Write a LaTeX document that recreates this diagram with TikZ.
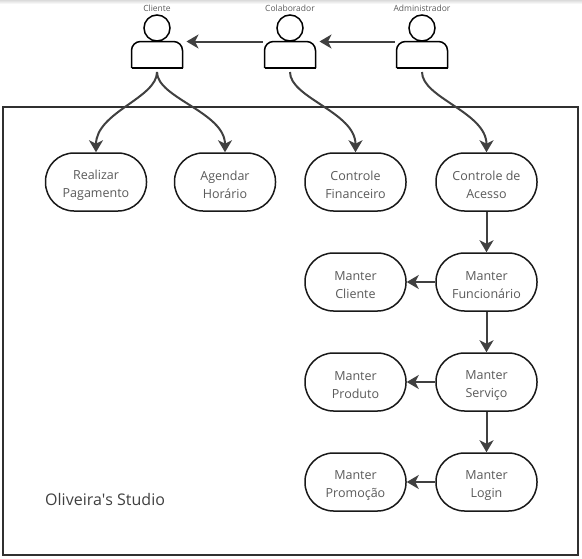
\documentclass[tikz,border=0pt]{standalone}
\usepackage{fontspec}
\setmainfont{Open Sans}
\usepackage{tikz}
\usetikzlibrary{arrows.meta}
\definecolor{inkgrey}{HTML}{404040}
\definecolor{textgrey}{HTML}{5A5A5A}
\definecolor{framegrey}{HTML}{303030}
\tikzset{
  uc/.style={rectangle, rounded corners=28.5pt, draw=black!90, line width=1.5pt, fill=white, align=center,
             minimum width=101pt, minimum height=58pt, inner sep=0pt, text height=33pt,
             text=textgrey, font=\fontsize{12.5}{17.8}\selectfont},
  uc arr/.style={-{Stealth[length=12pt, width=14pt, inset=3.5pt]}, line width=2pt, inkgrey},
  actor head/.style={circle, draw=black, line width=1.5pt, fill=white, minimum size=26pt, inner sep=0pt},
  actor body/.style={minimum width=51pt, minimum height=26.5pt, inner sep=0pt, outer sep=0pt},
  actor name/.style={font=\fontsize{8.5}{10}\selectfont, text=textgrey},
}
\begin{document}
\begin{tikzpicture}[x=1pt, y=-1pt]
  \useasboundingbox (0,0) rectangle (582,558);
  \shade[top color=black!14, bottom color=white] (0,0) rectangle (582,4);
  % system frame
  \node[draw=framegrey, line width=1.3pt, minimum width=575pt, minimum height=448pt, inner sep=0pt] (sys) at (290.5,331) {};
  \node[anchor=west, font=\fontsize{16}{19}\selectfont, text=inkgrey, inner sep=0pt] (title) at (45,499.5) {Oliveira\textquotesingle s Studio};
  % actors
  \foreach \n/\x/\t in {cl/157/Cliente, col/290/Colaborador, adm/422/Administrador} {
    \node[actor body] (\n) at (\x,54.75) {};
    \draw[line width=1.5pt, rounded corners=9pt] (\n.south west) -- (\n.north west) -- (\n.north east) -- (\n.south east);
    \draw[line width=1.5pt, line cap=square] (\n.south west) -- (\n.south east);
    \node[actor head] (\n head) at (\x,28) {};
    \node[actor name] (\n name) at (\x,8) {\t};
  }
  % use cases
  \node[uc] (pag) at (96,182) {Realizar\\Pagamento};
  \node[uc] (hor) at (225,182) {Agendar\\Horário};
  \node[uc] (fin) at (355.5,182) {Controle\\Financeiro};
  \node[uc] (ace) at (486.5,182) {Controle de\\Acesso};
  \node[uc] (mcl) at (355.5,282) {Manter\\Cliente};
  \node[uc] (mfu) at (486.5,282) {Manter\\Funcionário};
  \node[uc] (mpr) at (355.5,382) {Manter\\Produto};
  \node[uc] (mse) at (486.5,382) {Manter\\Serviço};
  \node[uc] (mpo) at (355.5,482) {Manter\\Promoção};
  \node[uc] (mlo) at (486.5,482) {Manter\\Login};
  % generalisation between the actors
  \draw[uc arr, shorten <=2pt, shorten >=4pt] (col.north west) -- (cl.north east);
  \draw[uc arr, shorten <=2pt, shorten >=4pt] (adm.north west) -- (col.north east);
  % actors to use cases
  \draw[uc arr, shorten <=4pt] (cl.south) .. controls +(0,30) and +(0,-40) .. (pag.north);
  \draw[uc arr, shorten <=4pt] (cl.south) .. controls +(0,30) and +(0,-40) .. (hor.north);
  \draw[uc arr, shorten <=4pt] (col.south) .. controls +(0,30) and +(0,-40) .. (fin.north);
  \draw[uc arr, shorten <=4pt] (adm.south) .. controls +(0,30) and +(0,-40) .. (ace.north);
  % right column
  \foreach \a/\b in {ace/mfu,mfu/mse,mse/mlo} \draw[uc arr] (\a) -- (\b);
  \foreach \a/\b in {mfu/mcl,mse/mpr,mlo/mpo} \draw[uc arr] (\a) -- (\b);
\end{tikzpicture}
\end{document}
